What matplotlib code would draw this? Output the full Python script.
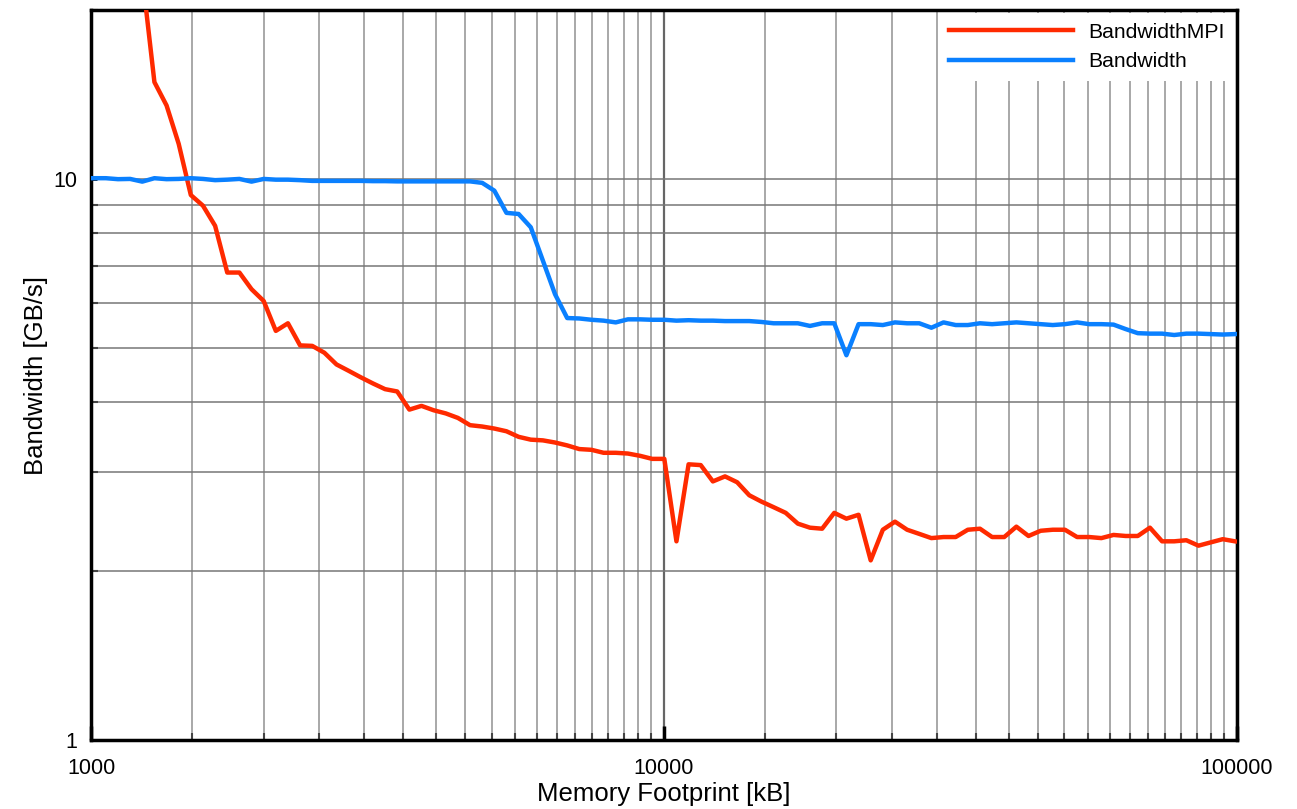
import matplotlib
matplotlib.use("Agg")
import matplotlib.pyplot as plt
from matplotlib.ticker import FixedLocator, NullFormatter, FixedFormatter

plt.rcParams['font.family'] = ['Liberation Sans', 'DejaVu Sans']

# memory footprint samples [kB]
mem_kb = [962.6, 1010.8, 1061.3, 1114.4, 1170.1, 1228.6,
          1290.0, 1354.5, 1422.2, 1493.3, 1568.0, 1646.4, 1728.7, 1815.2, 1905.9, 2001.2,
          2101.3, 2206.3, 2316.6, 2432.5, 2554.1, 2681.8, 2815.9, 2956.7, 3104.5, 3259.7,
          3422.7, 3593.9, 3773.6, 3962.2, 4160.4, 4368.4, 4586.8, 4816.1, 5056.9, 5309.8,
          5575.3, 5854.0, 6146.7, 6454.1, 6776.8, 7115.6, 7471.4, 7845.0, 8237.2, 8649.1,
          9081.5, 9535.6, 10012.4, 10513.0, 11038.7, 11590.6, 12170.2, 12778.7, 13417.6, 14088.5,
          14792.9, 15532.6, 16309.2, 17124.7, 17980.9, 18879.9, 19823.9, 20815.1, 21855.9, 22948.7,
          24096.1, 25300.9, 26566.0, 27894.3, 29289.0, 30753.5, 32291.2, 33905.8, 35601.1, 37381.1,
          39250.2, 41212.7, 43273.3, 45437.0, 47708.8, 50094.3, 52599.0, 55228.9, 57990.4, 60889.9,
          63934.4, 67131.1, 70487.7, 74012.1, 77712.7, 81598.3, 85678.2, 89962.2, 94460.3, 99183.3]

# plain bandwidth [GB/s]
bw = [10.03, 10.03, 10.03, 9.99, 10.0, 9.89,
      10.03, 9.99, 10.0, 10.03, 10.0, 9.95, 9.97, 10.0, 9.89, 10.0,
      9.97, 9.97, 9.95, 9.92, 9.92, 9.92, 9.92, 9.92, 9.91, 9.91,
      9.90, 9.90, 9.90, 9.90, 9.90, 9.90, 9.90, 9.84, 9.53, 8.70,
      8.66, 8.20, 7.15, 6.23, 5.65, 5.64, 5.61, 5.59, 5.55, 5.62,
      5.62, 5.61, 5.61, 5.59, 5.60, 5.59, 5.59, 5.58, 5.58, 5.58,
      5.56, 5.53, 5.53, 5.53, 5.47, 5.53, 5.53, 4.85, 5.51, 5.51,
      5.49, 5.55, 5.53, 5.53, 5.43, 5.55, 5.49, 5.49, 5.53, 5.51,
      5.53, 5.55, 5.53, 5.51, 5.49, 5.51, 5.55, 5.51, 5.51, 5.50,
      5.40, 5.31, 5.30, 5.30, 5.27, 5.30, 5.30, 5.29, 5.28, 5.29]

# bandwidth with MPI [GB/s], starts at mem_kb[5]
bw_mpi = [23.0,
          14.88, 13.52, 11.55, 9.36, 8.96, 8.25, 6.81, 6.81, 6.36, 6.06,
          5.36, 5.53, 5.05, 5.04, 4.90, 4.67, 4.55, 4.43, 4.32, 4.22,
          4.18, 3.88, 3.94, 3.87, 3.82, 3.75, 3.64, 3.62, 3.59, 3.55,
          3.47, 3.43, 3.42, 3.39, 3.35, 3.30, 3.29, 3.25, 3.25, 3.24,
          3.21, 3.17, 3.17, 2.26, 3.10, 3.09, 2.89, 2.95, 2.88, 2.73,
          2.66, 2.60, 2.54, 2.43, 2.39, 2.38, 2.54, 2.48, 2.52, 2.09,
          2.37, 2.45, 2.37, 2.33, 2.29, 2.30, 2.30, 2.37, 2.38, 2.30,
          2.30, 2.40, 2.31, 2.36, 2.37, 2.37, 2.30, 2.30, 2.29, 2.32,
          2.31, 2.31, 2.39, 2.26, 2.26, 2.27, 2.22, 2.25, 2.28, 2.26]

x_major = [1000, 10000, 100000]
x_labels = ['1000', '10000', '100000']
x_minor = [m * 500 for m in range(3, 20)] + [m * 5000 for m in range(3, 20)]
y_major = [1, 10]
y_minor = [2, 3, 4, 5, 6, 7, 8, 9, 20]

fig = plt.figure(figsize=(12.97, 8.09), dpi=100)
ax = fig.add_axes([0.0702, 0.0853, 0.8835, 0.9023])

ax.plot(mem_kb[5:], bw_mpi, color='#ff2a00', lw=3.2, label='BandwidthMPI', zorder=3)
ax.plot(mem_kb, bw, color='#0a80ff', lw=3.2, label='Bandwidth', zorder=3)

ax.set_xscale('log')
ax.set_yscale('log')
ax.set_xlim(1000, 100000)
ax.set_ylim(1, 20)

ax.xaxis.set_major_locator(FixedLocator(x_major))
ax.xaxis.set_major_formatter(FixedFormatter(x_labels))
ax.xaxis.set_minor_locator(FixedLocator(x_minor))
ax.xaxis.set_minor_formatter(NullFormatter())
ax.yaxis.set_major_locator(FixedLocator(y_major))
ax.yaxis.set_major_formatter(FixedFormatter(['1', '10']))
ax.yaxis.set_minor_locator(FixedLocator(y_minor))
ax.yaxis.set_minor_formatter(NullFormatter())

ax.grid(True, which='major', axis='x', color='#666666', lw=1.6)
ax.grid(True, which='minor', axis='x', color='#999999', lw=1.2)
ax.grid(True, which='both', axis='y', color='#777777', lw=1.1)

ax.tick_params(which='major', direction='in', length=10, width=2.5, labelsize=15.5)
ax.tick_params(which='minor', direction='in', length=5, width=1.5, color='#444444')
ax.tick_params(axis='x', which='major', pad=13)
ax.tick_params(axis='y', which='major', length=4, width=2, pad=10)

for s in ax.spines.values():
    s.set_linewidth(2.5)
    s.set_color('black')

ax.set_xlabel('Memory Footprint [kB]', fontsize=18.5, labelpad=2)
ax.set_ylabel('Bandwidth [GB/s]', fontsize=18.5, labelpad=4)

leg = ax.legend(loc='upper right', fontsize=15.2, handlelength=5.9, handletextpad=0.7,
                borderaxespad=0.15, borderpad=0.45, labelspacing=0.5,
                fancybox=False, framealpha=1, facecolor='white', edgecolor='none')
leg.set_zorder(4)

fig.savefig('out.png', dpi=100)
